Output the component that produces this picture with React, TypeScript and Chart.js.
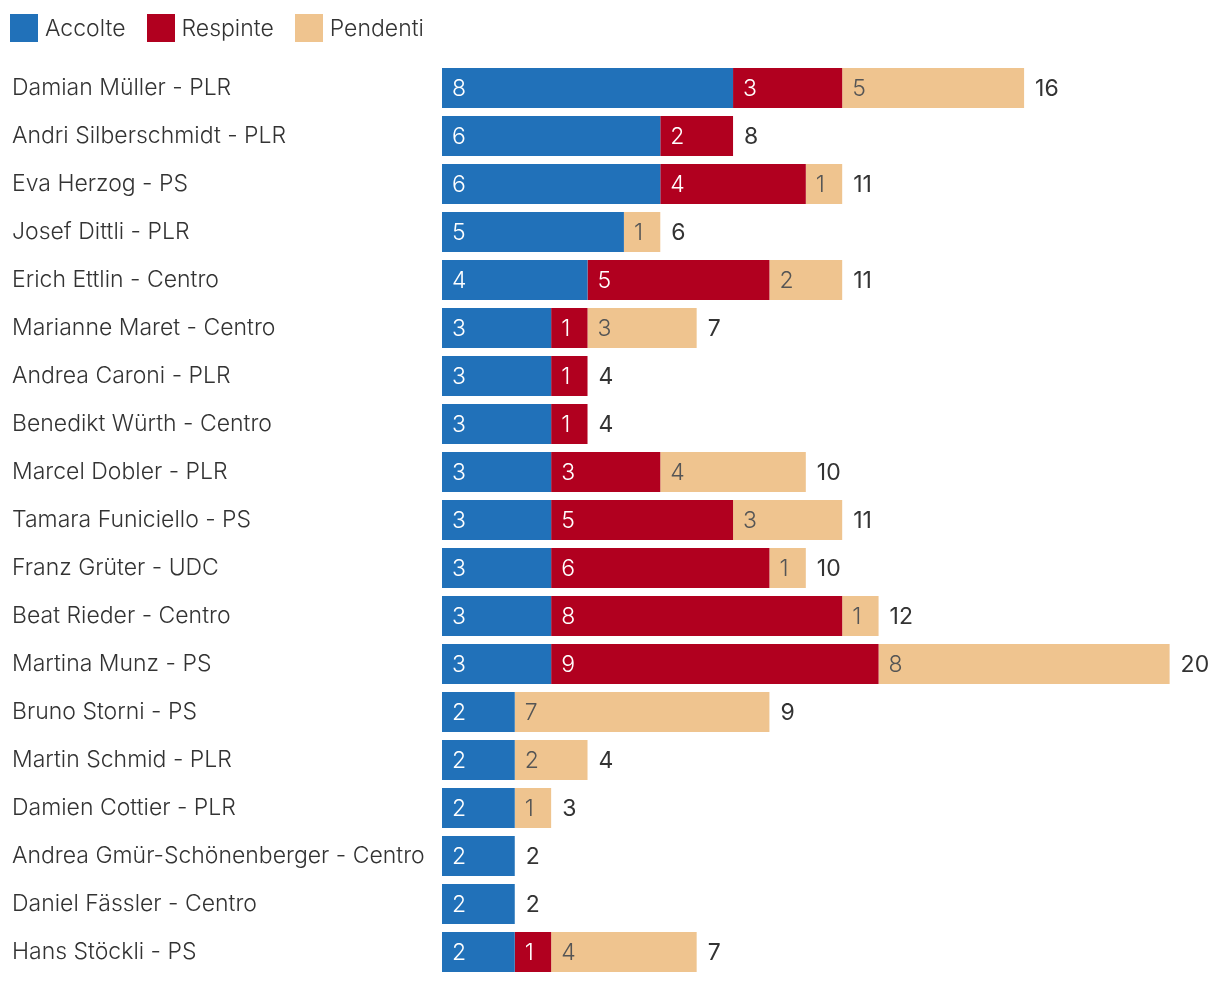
import React, { useEffect, useRef } from "react";
import { Chart, registerables } from "chart.js";

Chart.register(...registerables);

const categories = [
  "Damian Müller - PLR",
  "Andri Silberschmidt - PLR",
  "Eva Herzog - PS",
  "Josef Dittli - PLR",
  "Erich Ettlin - Centro",
  "Marianne Maret - Centro",
  "Andrea Caroni - PLR",
  "Benedikt Würth - Centro",
  "Marcel Dobler - PLR",
  "Tamara Funiciello - PS",
  "Franz Grüter - UDC",
  "Beat Rieder - Centro",
  "Martina Munz - PS",
  "Bruno Storni - PS",
  "Martin Schmid - PLR",
  "Damien Cottier - PLR",
  "Andrea Gmür-Schönenberger - Centro",
  "Daniel Fässler - Centro",
  "Hans Stöckli - PS",
];

const accolte = [8, 6, 6, 5, 4, 3, 3, 3, 3, 3, 3, 3, 3, 2, 2, 2, 2, 2, 2];
const respinte = [3, 2, 4, 0, 5, 1, 1, 1, 3, 5, 6, 8, 9, 0, 0, 0, 0, 0, 1];
const pendenti = [5, 0, 1, 1, 2, 3, 0, 0, 4, 3, 1, 1, 8, 7, 2, 1, 0, 0, 4];

const seriesNames = ["Accolte", "Respinte", "Pendenti"];
const seriesColors = ["#2171b9", "#b1001f", "#efc48f"];
const labelColors = ["#ffffff", "#ffffff", "#555555"];

const FONT = "Inter";

const valueLabels = {
  id: "valueLabels",
  afterDatasetsDraw(chart: any) {
    const ctx = chart.ctx;
    ctx.save();
    ctx.textBaseline = "middle";
    ctx.textAlign = "left";
    chart.data.datasets.forEach((ds: any, i: number) => {
      const meta = chart.getDatasetMeta(i);
      ctx.font = `300 23px ${FONT}`;
      ctx.fillStyle = labelColors[i];
      meta.data.forEach((el: any, j: number) => {
        const v = ds.data[j];
        if (!v) return;
        const p = el.getProps(["x", "y", "base"], true);
        const start = Math.min(p.x, p.base);
        ctx.fillText(String(v), start + 10, p.y + 1);
      });
    });
    const xs = chart.scales.x;
    ctx.font = `400 23px ${FONT}`;
    ctx.fillStyle = "#333333";
    const meta0 = chart.getDatasetMeta(0);
    categories.forEach((_, j) => {
      const total = accolte[j] + respinte[j] + pendenti[j];
      const el: any = meta0.data[j];
      const y = el.getProps(["y"], true).y;
      ctx.fillText(String(total), xs.getPixelForValue(total) + 11, y + 1);
    });
    ctx.restore();
  },
};

export default function App() {
  const ref = useRef<HTMLCanvasElement | null>(null);
  useEffect(() => {
    if (!ref.current) return;
    const chart = new Chart(ref.current, {
      type: "bar",
      data: {
        labels: categories,
        datasets: [accolte, respinte, pendenti].map((d, i) => ({
          label: seriesNames[i],
          data: d,
          backgroundColor: seriesColors[i],
          borderWidth: 0,
          barPercentage: 40 / 48,
          categoryPercentage: 1,
        })),
      },
      options: {
        indexAxis: "y",
        animation: false,
        responsive: true,
        maintainAspectRatio: false,
        layout: { padding: { top: 56, left: 4, right: 6, bottom: 0 } },
        plugins: {
          legend: { display: false },
          tooltip: { enabled: false },
        },
        scales: {
          x: { stacked: true, display: false, min: 0, max: 21 },
          y: {
            stacked: true,
            grid: { display: false },
            border: { display: false },
            ticks: {
              crossAlign: "far",
              color: "#333333",
              font: { family: FONT, size: 23, weight: "300" as any },
              padding: 20,
            },
            afterFit(scale: any) {
              scale.width = 430;
              scale.paddingTop = 0;
              scale.paddingBottom = 0;
            },
          },
        },
      },
      plugins: [valueLabels],
    });
    return () => chart.destroy();
  }, []);

  return (
    <div style={{ position: "relative", width: 1204, height: 968 }}>
      <div
        style={{
          position: "absolute",
          left: 2,
          top: 6,
          height: 28,
          display: "flex",
          alignItems: "center",
          fontFamily: FONT,
          fontWeight: 300,
          fontSize: 23,
          color: "#333333",
          zIndex: 1,
        }}
      >
        {seriesNames.map((n, i) => (
          <div key={n} style={{ display: "flex", alignItems: "center", marginRight: 21 }}>
            <span
              style={{
                display: "inline-block",
                width: 28,
                height: 28,
                background: seriesColors[i],
                marginRight: 7,
              }}
            />
            <span>{n}</span>
          </div>
        ))}
      </div>
      <div style={{ position: "absolute", left: 0, top: 0, width: 1204, height: 968 }}>
        <canvas ref={ref} />
      </div>
    </div>
  );
}
